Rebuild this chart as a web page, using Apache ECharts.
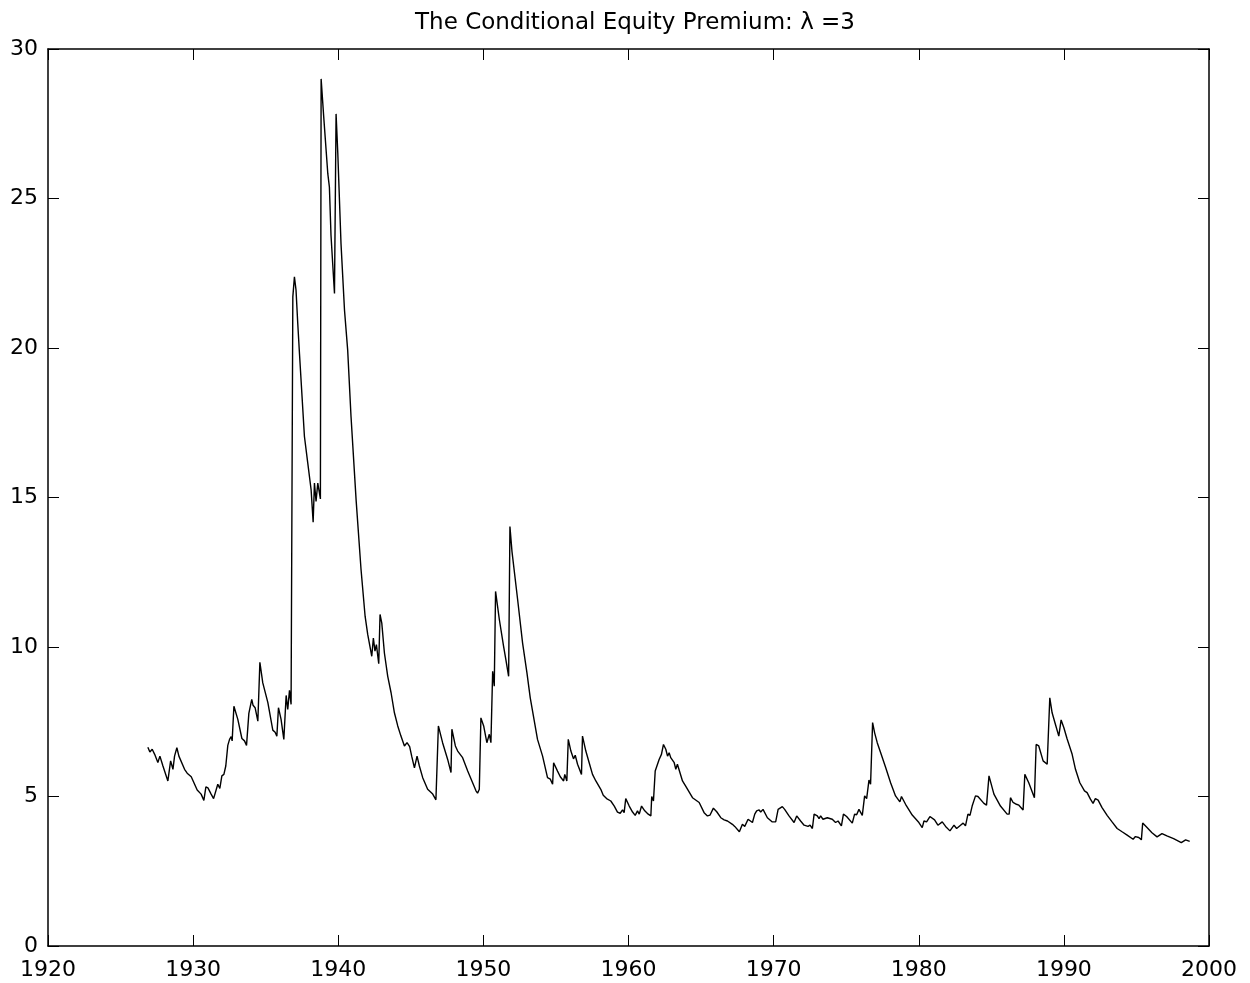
<!DOCTYPE html>
<html>
<head>
<meta charset="utf-8">
<title>The Conditional Equity Premium</title>
<script src="https://cdn.jsdelivr.net/npm/echarts@6/dist/echarts.min.js"></script>
<style>
    html, body {margin: 0; padding: 0; background: #fff;}
    #ET1 {width: 1250px; height: 983px;}
</style>
</head>
<body>
<div id="ET1"></div>
<script>
// dates (fractional years) and premium (%)
var years = [
    1926.88, 1927.02, 1927.18, 1927.35, 1927.57, 1927.71, 1927.92, 1928.26, 1928.45, 1928.61,
    1928.72, 1928.88, 1929.02, 1929.11, 1929.41, 1929.59, 1929.69, 1929.87, 1929.98, 1930.28,
    1930.38, 1930.55, 1930.74, 1930.88, 1931.02, 1931.24, 1931.41, 1931.52, 1931.70, 1931.84,
    1931.98, 1932.12, 1932.25, 1932.39, 1932.51, 1932.62, 1932.69, 1932.81, 1932.90, 1933.08,
    1933.36, 1933.54, 1933.68, 1933.84, 1934.04, 1934.13, 1934.27, 1934.46, 1934.60, 1934.80,
    1934.92, 1935.15, 1935.49, 1935.65, 1935.77, 1935.88, 1936.06, 1936.25, 1936.41, 1936.52,
    1936.64, 1936.75, 1936.87, 1936.98, 1937.09, 1937.21, 1937.33, 1937.67, 1937.90, 1938.13,
    1938.27, 1938.36, 1938.47, 1938.59, 1938.68, 1938.77, 1938.82, 1939.00, 1939.09, 1939.28,
    1939.39, 1939.50, 1939.62, 1939.74, 1939.85, 1939.97, 1940.19, 1940.43, 1940.65, 1940.88,
    1941.23, 1941.57, 1941.85, 1942.03, 1942.15, 1942.31, 1942.42, 1942.53, 1942.63, 1942.79,
    1942.88, 1943.00, 1943.18, 1943.41, 1943.64, 1943.87, 1944.10, 1944.32, 1944.56, 1944.74,
    1944.92, 1945.06, 1945.25, 1945.43, 1945.59, 1945.82, 1946.16, 1946.51, 1946.73, 1946.90,
    1947.19, 1947.54, 1947.77, 1947.83, 1948.07, 1948.23, 1948.34, 1948.57, 1948.92, 1949.26,
    1949.49, 1949.60, 1949.72, 1949.83, 1950.02, 1950.24, 1950.41, 1950.52, 1950.64, 1950.75,
    1950.84, 1951.10, 1951.39, 1951.55, 1951.74, 1951.83, 1951.97, 1952.06, 1952.36, 1952.70,
    1953.00, 1953.23, 1953.73, 1954.08, 1954.42, 1954.61, 1954.77, 1954.84, 1955.11, 1955.30,
    1955.39, 1955.53, 1955.61, 1955.75, 1955.85, 1956.03, 1956.21, 1956.33, 1956.49, 1956.76,
    1956.83, 1957.06, 1957.29, 1957.52, 1957.75, 1957.87, 1958.09, 1958.26, 1958.37, 1958.49,
    1958.60, 1958.78, 1959.02, 1959.24, 1959.43, 1959.59, 1959.70, 1959.81, 1960.05, 1960.28,
    1960.46, 1960.62, 1960.74, 1960.90, 1961.12, 1961.36, 1961.54, 1961.60, 1961.72, 1961.84,
    1961.95, 1962.11, 1962.22, 1962.27, 1962.41, 1962.57, 1962.69, 1962.80, 1962.91, 1963.15,
    1963.26, 1963.37, 1963.72, 1963.94, 1964.41, 1964.87, 1965.21, 1965.44, 1965.62, 1965.71,
    1965.85, 1966.08, 1966.36, 1966.59, 1966.82, 1967.16, 1967.32, 1967.64, 1967.85, 1968.01,
    1968.24, 1968.54, 1968.70, 1968.83, 1969.00, 1969.11, 1969.27, 1969.57, 1969.91, 1970.14,
    1970.31, 1970.44, 1970.60, 1970.76, 1971.06, 1971.41, 1971.59, 1971.86, 1972.10, 1972.37,
    1972.51, 1972.67, 1972.79, 1973.01, 1973.13, 1973.24, 1973.40, 1973.70, 1974.04, 1974.27,
    1974.44, 1974.67, 1974.81, 1975.03, 1975.42, 1975.58, 1975.72, 1975.88, 1976.11, 1976.27,
    1976.41, 1976.57, 1976.68, 1976.82, 1976.96, 1977.14, 1977.37, 1977.72, 1978.06, 1978.40,
    1978.70, 1978.81, 1979.09, 1979.55, 1980.01, 1980.24, 1980.36, 1980.54, 1980.77, 1981.09,
    1981.32, 1981.62, 1981.85, 1982.15, 1982.43, 1982.61, 1982.88, 1983.06, 1983.22, 1983.39,
    1983.53, 1983.68, 1983.80, 1983.91, 1984.08, 1984.49, 1984.67, 1984.84, 1985.18, 1985.63,
    1986.09, 1986.23, 1986.32, 1986.50, 1986.73, 1986.90, 1987.19, 1987.31, 1987.58, 1987.97,
    1988.09, 1988.27, 1988.57, 1988.85, 1988.98, 1989.03, 1989.19, 1989.42, 1989.65, 1989.81,
    1990.00, 1990.22, 1990.57, 1990.80, 1991.10, 1991.42, 1991.60, 1991.83, 1992.01, 1992.17,
    1992.36, 1992.63, 1992.98, 1993.32, 1993.67, 1994.01, 1994.36, 1994.77, 1994.93, 1995.16,
    1995.34, 1995.43, 1995.73, 1996.07, 1996.42, 1996.76, 1997.10, 1997.56, 1998.09, 1998.39,
    1998.67
];
var premium = [
    6.65, 6.49, 6.58, 6.41, 6.14, 6.35, 6.02, 5.52, 6.19, 5.91,
    6.35, 6.63, 6.35, 6.41, 5.91, 5.78, 5.82, 5.66, 5.63, 5.22,
    5.24, 5.08, 4.87, 5.32, 5.29, 5.08, 4.93, 4.93, 5.41, 5.27,
    5.69, 5.74, 6.02, 6.71, 6.91, 7.00, 6.86, 8.02, 7.97, 7.58,
    6.94, 6.86, 6.71, 7.78, 8.25, 8.05, 7.97, 7.52, 9.49, 8.80,
    8.75, 8.14, 7.22, 7.15, 7.02, 7.97, 7.58, 6.91, 8.38, 7.91,
    8.55, 8.08, 21.71, 22.38, 21.94, 20.82, 19.80, 17.04, 16.15, 15.26,
    14.17, 15.48, 14.87, 15.48, 15.54, 14.95, 29.00, 27.72, 27.70, 25.83,
    25.38, 23.77, 23.72, 21.82, 27.83, 26.50, 23.49, 21.27, 19.93, 17.71,
    14.92, 12.59, 11.03, 10.42, 10.36, 9.69, 10.30, 9.86, 10.08, 9.44,
    11.09, 10.80, 9.80, 9.02, 8.47, 7.80, 7.36, 7.02, 6.69, 6.80,
    6.67, 6.35, 5.96, 6.35, 6.02, 5.63, 5.24, 5.08, 4.89, 7.36,
    6.80, 6.24, 5.80, 7.25, 6.69, 6.52, 6.49, 6.30, 5.85, 5.46,
    5.19, 5.11, 5.24, 7.63, 7.36, 6.80, 7.08, 6.80, 9.19, 8.69,
    11.86, 10.92, 10.03, 9.58, 9.02, 14.03, 13.20, 13.25, 11.59, 10.14,
    9.14, 8.30, 6.91, 6.35, 5.63, 5.58, 5.41, 6.13, 5.85, 5.66,
    5.71, 5.52, 5.74, 5.52, 6.91, 6.52, 6.26, 6.38, 6.08, 5.74,
    7.02, 6.52, 6.13, 5.74, 5.52, 5.55, 5.24, 5.04, 5.08, 4.93,
    4.98, 4.85, 4.68, 4.48, 4.44, 4.55, 4.46, 4.93, 4.68, 4.48,
    4.37, 4.52, 4.41, 4.68, 4.52, 4.41, 4.35, 5.00, 4.85, 5.85,
    5.88, 6.24, 6.22, 6.41, 6.74, 6.58, 6.35, 6.46, 6.30, 6.13,
    5.91, 6.08, 5.52, 5.35, 4.96, 4.80, 4.46, 4.35, 4.38, 4.32,
    4.61, 4.49, 4.29, 4.22, 4.18, 4.07, 4.00, 3.82, 4.07, 4.00,
    4.24, 4.13, 4.41, 4.52, 4.55, 4.48, 4.57, 4.29, 4.15, 4.15,
    4.57, 4.55, 4.66, 4.57, 4.35, 4.13, 4.35, 4.18, 4.04, 4.00,
    4.04, 3.93, 4.41, 4.35, 4.26, 4.35, 4.24, 4.29, 4.24, 4.13,
    4.18, 4.02, 4.41, 4.33, 4.11, 4.41, 4.39, 4.57, 4.37, 5.02,
    4.93, 5.55, 5.41, 7.47, 7.13, 6.80, 6.47, 5.97, 5.46, 5.02,
    4.82, 5.00, 4.74, 4.38, 4.13, 3.96, 4.18, 4.15, 4.33, 4.22,
    4.04, 4.15, 4.00, 3.85, 4.04, 3.93, 4.04, 4.11, 4.02, 4.41,
    4.37, 4.68, 4.66, 5.02, 5.00, 4.77, 4.71, 5.69, 5.08, 4.68,
    4.41, 4.41, 4.96, 4.80, 4.74, 4.71, 4.55, 5.74, 5.46, 4.96,
    6.74, 6.69, 6.19, 6.08, 6.04, 8.30, 7.80, 7.41, 7.02, 7.56,
    7.30, 6.93, 6.41, 5.91, 5.46, 5.19, 5.13, 4.91, 4.77, 4.93,
    4.88, 4.63, 4.37, 4.15, 3.93, 3.82, 3.71, 3.57, 3.66, 3.63,
    3.55, 4.11, 3.96, 3.79, 3.65, 3.76, 3.68, 3.59, 3.46, 3.55,
    3.50
];
var xTicks = [1920, 2000, 10];
var yTicks = [0, 30, 5];

~function () {
    var myChart = echarts.init(ET1);
    var lineData = [];
    for (var i = 0; i < years.length; i++) {
        lineData.push([years[i], premium[i]]);
    }
    var font = 'DejaVu Sans';
    var tick = {show: true, inside: true, length: 11, lineStyle: {color: '#000', width: 1}};
    var axLine = {show: true, onZero: false, lineStyle: {color: '#000', width: 1.5}};
    var option = {
        animation: false,
        backgroundColor: '#fff',
        title: {
            text: 'The Conditional Equity Premium: λ =3',
            left: 630,
            top: 7,
            textAlign: 'center',
            textStyle: {fontFamily: font, fontSize: 23, fontWeight: 'normal', color: '#000'}
        },
        grid: {left: 48, right: 41, top: 49, bottom: 37},
        xAxis: [
            {
                type: 'value',
                position: 'bottom',
                min: xTicks[0],
                max: xTicks[1],
                interval: xTicks[2],
                axisLine: axLine,
                axisTick: tick,
                splitLine: {show: false},
                axisLabel: {
                    color: '#000', fontFamily: font, fontSize: 22, margin: 13,
                    formatter: function (v) { return String(v); }
                }
            },
            {
                type: 'value',
                position: 'top',
                min: xTicks[0],
                max: xTicks[1],
                interval: xTicks[2],
                axisLine: axLine,
                axisTick: tick,
                splitLine: {show: false},
                axisLabel: {show: false}
            }
        ],
        yAxis: [
            {
                type: 'value',
                position: 'left',
                min: yTicks[0],
                max: yTicks[1],
                interval: yTicks[2],
                axisLine: axLine,
                axisTick: tick,
                splitLine: {show: false},
                axisLabel: {color: '#000', fontFamily: font, fontSize: 22, margin: 10}
            },
            {
                type: 'value',
                position: 'right',
                min: yTicks[0],
                max: yTicks[1],
                interval: yTicks[2],
                axisLine: axLine,
                axisTick: tick,
                splitLine: {show: false},
                axisLabel: {show: false}
            }
        ],
        series: [
            {
                name: 'premium',
                type: 'line',
                data: lineData,
                showSymbol: false,
                symbol: 'none',
                lineStyle: {color: '#000', width: 1.4},
                silent: true
            }
        ]
    };
    myChart.setOption(option);
}();
</script>
</body>
</html>
